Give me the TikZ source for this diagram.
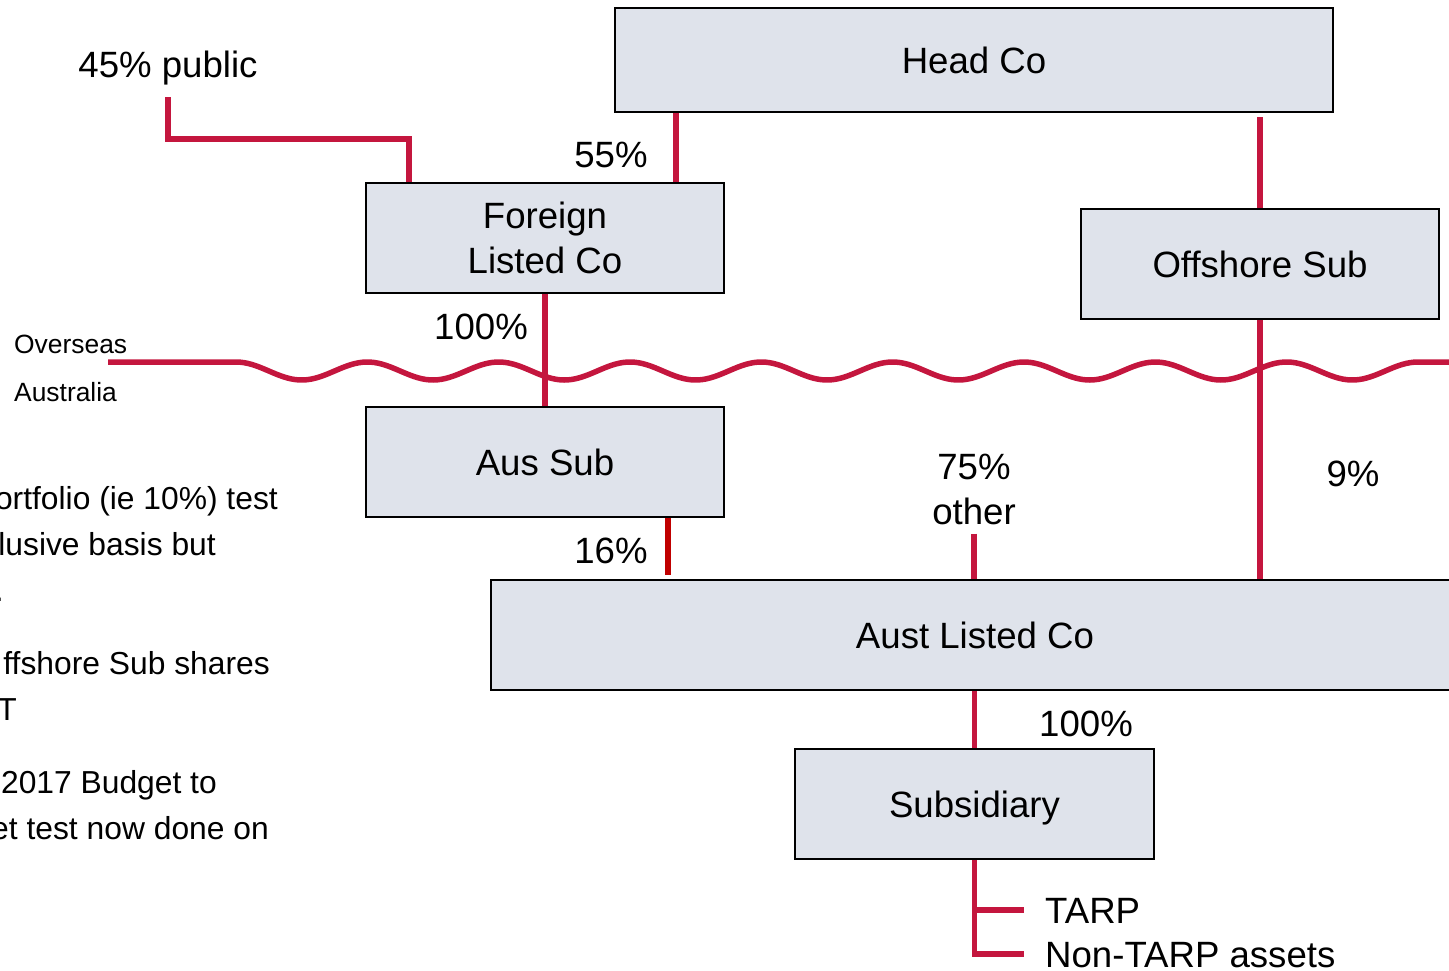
\documentclass[tikz,border=0pt]{standalone}
\usepackage{fontspec}
\setmainfont{Liberation Sans}
\definecolor{boxfill}{RGB}{223,227,235}
\definecolor{tie}{RGB}{196,22,62}
\definecolor{tiedark}{RGB}{192,0,0}
\begin{document}
\begin{tikzpicture}[x=1bp,y=1bp,
  big/.style={font=\fontsize{36.6bp}{45bp}\selectfont},
  box/.style={big, draw=black, line width=2.5bp, fill=boxfill, inner sep=0pt, align=center},
  oneline/.style={text height=26.4bp, text depth=0pt},
  lab/.style={big, inner sep=0pt, oneline},
  lab2/.style={big, inner sep=0pt, align=center},
  side/.style={inner sep=0pt, font=\fontsize{26.4bp}{32bp}\selectfont, text height=19bp, text depth=0pt},
  note/.style={inner sep=0pt, font=\fontsize{31.8bp}{46bp}\selectfont, anchor=base east},
  own/.style={draw=tie, line width=5.5bp},
]
\useasboundingbox (0,0) rectangle (1449,-970);
\clip (0,0) rectangle (1449,-970);

% Company boxes
\node[box, oneline, minimum width=718bp, minimum height=104bp] (head) at (974,-60) {Head Co};
\node[box, minimum width=358bp, minimum height=110bp] (fl) at (545,-238) {Foreign\\Listed Co};
\node[box, oneline, minimum width=358bp, minimum height=110bp] (off) at (1260,-264) {Offshore Sub};
\node[box, oneline, minimum width=358bp, minimum height=110bp] (aus) at (545,-462) {Aus Sub};
\node[box, oneline, minimum width=968bp, minimum height=110bp] (aust) at (975,-635) {Aust Listed Co};
\node[box, oneline, minimum width=359bp, minimum height=110bp] (sub) at (974.5,-804) {Subsidiary};

% Ownership labels
\node[lab] (pub) at (168,-64) {45\% public};
\node[lab] (p55) at (611,-154) {55\%};
\node[lab] (p100a) at (481,-326) {100\%};
\node[lab2] (oth) at (974,-489) {75\%\\other};
\node[lab] (p9) at (1353,-473) {9\%};
\node[lab] (p16) at (611,-550) {16\%};
\node[lab] (p100b) at (1086,-723) {100\%};
\node[lab, anchor=west] (tarp) at (1045,-910) {TARP};
\node[lab, anchor=west] (ntarp) at (1045,-954) {Non-TARP assets};

% Border between the two jurisdictions
\node[side, anchor=west] (ovs) at (14,-344) {Overseas};
\node[side, anchor=west] (aul) at (14,-392) {Australia};
\draw[own, line join=round] (108,-362) -- (236,-362)
  -- plot[domain=236:1418, samples=300] (\x, {-371 + 9*cos((\x-236)*2.74112)})
  -- (1449,-362);

% Notes at the left edge
\node[note] (n1) at (278,-509) {ortfolio (ie 10\%) test};
\node[note] (n2) at (216,-555) {lusive basis but};
\node[note] (n3) at (4,-601) {.};
\node[note] (n4) at (270,-674) {ffshore Sub shares};
\node[note] (n5) at (17,-720) {T};
\node[note] (n6) at (217,-793) {2017 Budget to};
\node[note] (n7) at (269,-839) {et test now done on};

% Connector positions
\coordinate (x409) at (409,-139);
\coordinate (x676) at (676,0);
\coordinate (x668) at (668,0);

% Ownership lines
\draw[own] ([yshift=-20bp]pub.south) |- (x409) -- (fl.north -| x409);
\draw[own] (head.south -| x676) -- (fl.north -| x676);
\draw[own] ([yshift=-4bp]head.south -| off.north) -- (off.north);
\draw[own] (fl.south) -- (aus.north);
\draw[own] (off.south) -- (aust.north -| off.south);
\draw[draw=tiedark, line width=5.5bp] (aus.south -| x668) -- ([yshift=4bp]aust.north -| x668);
\draw[own] ([yshift=-9bp]oth.south) -- (aust.north -| oth.south);
\draw[own] (aust.south -| sub.north) -- (sub.north);
\draw[own] (sub.south) |- ([xshift=-21bp]ntarp.west);
\draw[own] (sub.south |- tarp.west) -- ([xshift=-21bp]tarp.west);
\end{tikzpicture}
\end{document}
